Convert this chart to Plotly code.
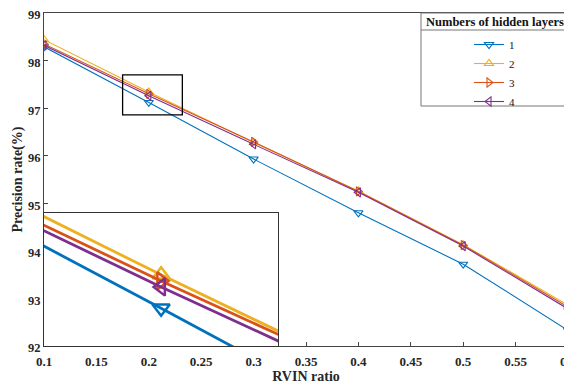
import plotly.graph_objects as go

ratios = [0.1, 0.2, 0.3, 0.4, 0.5, 0.6]
layer1 = [98.29, 97.12, 95.93, 94.80, 93.72, 92.33]
layer2 = [98.44, 97.34, 96.28, 95.26, 94.13, 92.86]
layer3 = [98.35, 97.30, 96.29, 95.25, 94.12, 92.82]
layer4 = [98.32, 97.26, 96.24, 95.23, 94.10, 92.78]
names = ["1", "2", "3", "4"]
series = [layer1, layer2, layer3, layer4]
colors = ["#0072BD", "#EDB120", "#D95319", "#7E2F8E"]
symbols = ["triangle-down-open", "triangle-up-open", "triangle-right-open", "triangle-left-open"]

xticks = [0.1, 0.15, 0.2, 0.25, 0.3, 0.35, 0.4, 0.45, 0.5, 0.55, 0.6]
xticklabels = ["0.1", "0.15", "0.2", "0.25", "0.3", "0.35", "0.4", "0.45", "0.5", "0.55", "0.6"]
yticks = [92, 93, 94, 95, 96, 97, 98, 99]

zoom_x = [0.165, 0.235]
zoom_y = [96.87, 97.75]
box_x = [0.175, 0.232]
box_y = [96.86, 97.70]

font = "Liberation Serif"
fig = go.Figure()

for n, s, c, m in zip(names, series, colors, symbols):
    fig.add_trace(go.Scatter(x=ratios, y=s, name=n, mode="lines+markers",
                             line=dict(color=c, width=1.1),
                             marker=dict(symbol=m, size=8, color=c, line=dict(width=1.1, color=c)),
                             xaxis="x", yaxis="y"))

# white background for inset
fig.add_trace(go.Scatter(x=[zoom_x[0], zoom_x[1], zoom_x[1], zoom_x[0], zoom_x[0]],
                         y=[zoom_y[0], zoom_y[0], zoom_y[1], zoom_y[1], zoom_y[0]],
                         fill="toself", fillcolor="white", line=dict(width=0),
                         mode="lines", showlegend=False, hoverinfo="skip",
                         xaxis="x2", yaxis="y2"))

for n, s, c, m in zip(names, series, colors, symbols):
    fig.add_trace(go.Scatter(x=ratios, y=s, name=n, mode="lines+markers",
                             line=dict(color=c, width=2.8),
                             marker=dict(symbol=m, size=15, color=c, line=dict(width=2.5, color=c)),
                             showlegend=False, cliponaxis=True,
                             xaxis="x2", yaxis="y2"))

fig.add_shape(type="rect", xref="x", yref="y", x0=box_x[0], x1=box_x[1], y0=box_y[0], y1=box_y[1],
              line=dict(color="black", width=1.3), layer="above")

# page body has an 8px margin; plot area spans screen x 44..568, y 13..346
L, T, R, B = 36, 5, 4, 39
W, H = 564, 377
pw = W - L - R
ph = H - T - B
lx0 = (421 - 8 - L) / pw
ly0 = 1 - (106 - 13) / ph
sep = 1 - (30 - 13) / ph
fig.add_shape(type="rect", xref="paper", yref="paper", x0=lx0, x1=1, y0=ly0, y1=1,
              line=dict(color="#777", width=1), fillcolor="white", layer="above")
fig.add_shape(type="line", xref="paper", yref="paper", x0=lx0, x1=1, y0=sep, y1=sep,
              line=dict(color="#777", width=1), layer="above")
fig.add_annotation(xref="paper", yref="paper", x=(lx0 + 1) / 2, y=(sep + 1) / 2,
                   text="<b>Numbers of hidden layers</b>", showarrow=False,
                   font=dict(family=font, size=12.5, color="#111"), xanchor="center", yanchor="middle")

fig.update_layout(
    width=W, height=H,
    margin=dict(l=L, r=R, t=T, b=B),
    paper_bgcolor="white", plot_bgcolor="white",
    font=dict(family=font, size=13, color="#262626"),
    xaxis=dict(domain=[0, 1], range=[0.1, 0.6], tickvals=xticks,
               ticktext=[f"<b>{t}</b>" for t in xticklabels], automargin=False,
               ticklabeloverflow="allow", ticklabelstandoff=3,
               ticks="inside", ticklen=4, tickcolor="#444", showline=True, linecolor="#444",
               mirror=True, showgrid=False, zeroline=False,
               tickfont=dict(family=font, size=13, color="#262626"),
               title=dict(text="<b>RVIN ratio</b>", font=dict(family=font, size=14), standoff=1)),
    yaxis=dict(domain=[0, 1], range=[92, 99], tickvals=yticks,
               ticktext=[f"<b>{v}</b>" for v in yticks], automargin=False,
               ticklabeloverflow="allow", ticklabelshift=2,
               ticks="inside", ticklen=4, tickcolor="#444", showline=True, linecolor="#444",
               mirror=True, showgrid=False, zeroline=False,
               tickfont=dict(family=font, size=12.5, color="#262626"),
               title=dict(text="<b>Precision rate(%)</b>", font=dict(family=font, size=14), standoff=2)),
    xaxis2=dict(domain=[0, 0.447], range=zoom_x, anchor="y2", showticklabels=False, ticks="",
                showline=True, linecolor="#333", mirror=True, showgrid=False, zeroline=False,
                automargin=False),
    yaxis2=dict(domain=[0, 0.40], range=zoom_y, anchor="x2", showticklabels=False, ticks="",
                showline=True, linecolor="#333", mirror=True, showgrid=False, zeroline=False,
                automargin=False),
    legend=dict(x=(lx0 + 1) / 2, y=sep, xanchor="center", yanchor="top",
                bgcolor="rgba(0,0,0,0)", borderwidth=0,
                font=dict(family=font, size=11, color="#111"), tracegroupgap=0),
    showlegend=True,
)

fig.write_html("out.html")
